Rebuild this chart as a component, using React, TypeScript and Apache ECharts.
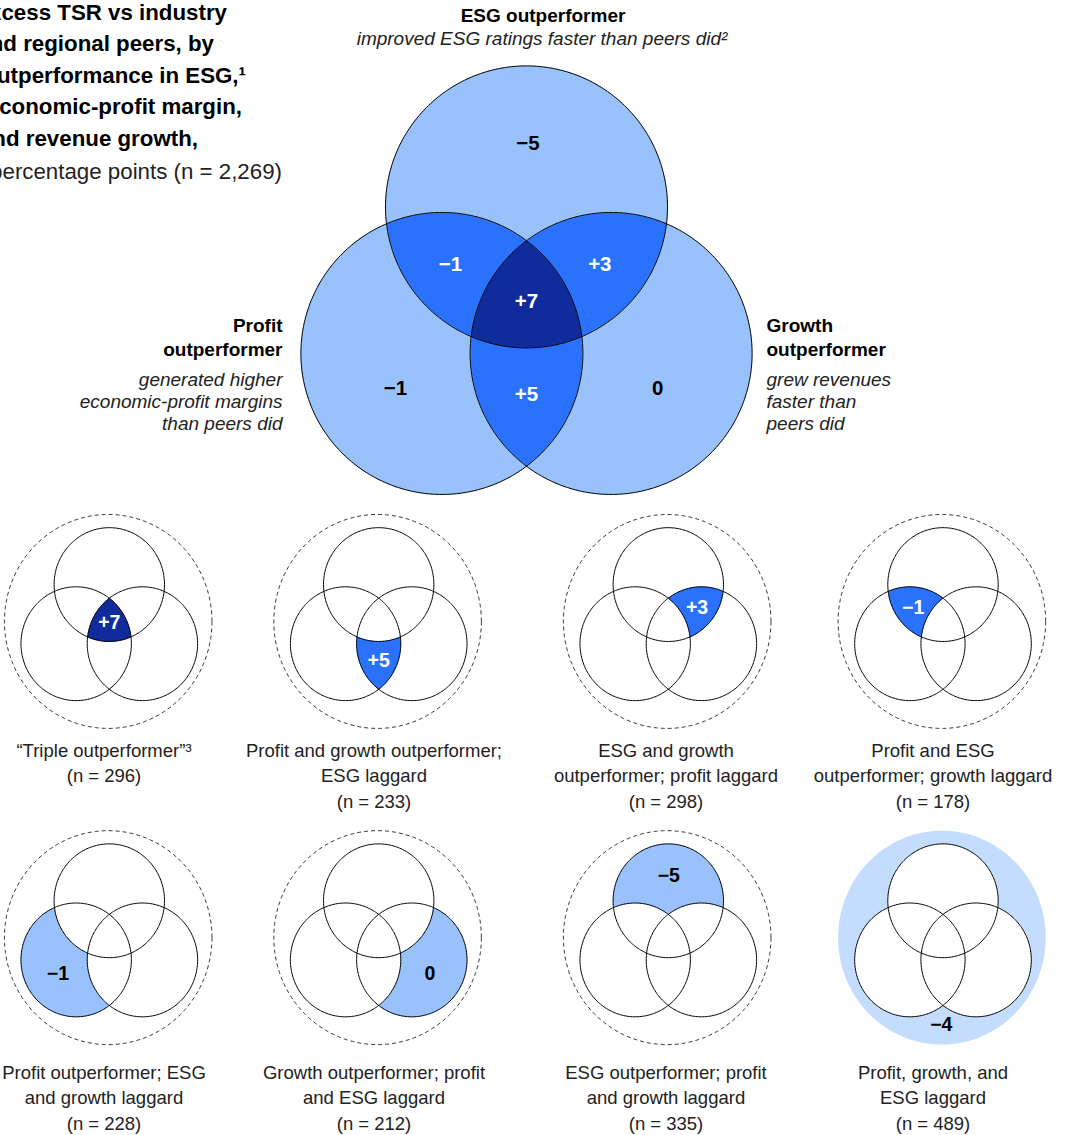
import React, { useEffect, useRef } from "react";
import * as echarts from "echarts";

// ---------------- data ----------------
// Region keys: A = ESG outperformer, B = profit outperformer, C = growth outperformer
const regionKeys = ["ABC", "BC", "AC", "AB", "B", "C", "A", ""];
const excessTsr = [7, 5, 3, -1, -1, 0, -5, -4];
const sampleSizes = [296, 233, 298, 178, 228, 212, 335, 489];
const captionLines: string[][] = [
  ["\u201CTriple outperformer\u201D\u00B3"],
  ["Profit and growth outperformer;", "ESG laggard"],
  ["ESG and growth", "outperformer; profit laggard"],
  ["Profit and ESG", "outperformer; growth laggard"],
  ["Profit outperformer; ESG", "and growth laggard"],
  ["Growth outperformer; profit", "and ESG laggard"],
  ["ESG outperformer; profit", "and growth laggard"],
  ["Profit, growth, and", "ESG laggard"],
];
const titleLines = [
  "Excess TSR vs industry",
  "and regional peers, by",
  "outperformance in ESG,\u00B9",
  "economic-profit margin,",
  "and revenue growth,",
];
const subtitleText = "percentage points (n = 2,269)";
const esgLabel = ["ESG outperformer"];
const esgDesc = ["improved ESG ratings faster than peers did\u00B2"];
const profitLabel = ["Profit", "outperformer"];
const profitDesc = ["generated higher", "economic-profit margins", "than peers did"];
const growthLabel = ["Growth", "outperformer"];
const growthDesc = ["grew revenues", "faster than", "peers did"];

// ---------------- layout ----------------
const W = 1069;
const H = 1135;
const FONT = "'Liberation Sans', Arial, Helvetica, sans-serif";
const BIG = { cx: 526.5, cy: 304.6, sx: 141, sy: 141 };
const COLS = [109.3, 378.7, 668.3, 943];
const ROWS = [624.0, 940.2];
const SMALL_SX = 55.2;
const SMALL_SY = 56.9;
const OUTER_R = 1.88;
const OUTER_OFF = [-0.02, -0.045];
const CAPTION_X = [104, 374, 666, 933];
const CAPTION_Y = [750, 1072];
const CAPTION_LH = 25.5;
const TITLE_RIGHT = [227, 214, 246, 242, 198];
const TITLE_Y0 = 12;
const TITLE_LH = 31.6;
const TITLE_SIZE = 22.3;
const FILLS = ["#c4dcfd", "#99c2fd", "#2a72fe", "#0f2b9c"];
const SIDE = 1.2; // distance between circle centres in radius units
const SQ3 = Math.sqrt(3);
type Pt = [number, number];
const CIRCLE_CENTERS: Pt[] = [
  [0, -SIDE / SQ3],
  [-SIDE / 2, SIDE / (2 * SQ3)],
  [SIDE / 2, SIDE / (2 * SQ3)],
];
const LABEL_POS: Record<string, Pt> = {
  ABC: [0, -0.03],
  BC: [0, 0.63],
  AC: [0.52, -0.29],
  AB: [-0.54, -0.29],
  B: [-0.93, 0.585],
  C: [0.93, 0.585],
  A: [0.01, -1.15],
  "": [-0.03, 1.47],
};

// ---------------- geometry helpers ----------------
function regionOutline(key: string): Pt[] {
  const flags = ["A", "B", "C"].map((n) => key.includes(n));
  const cs = CIRCLE_CENTERS;
  const angs: number[][] = [[], [], []];
  for (let i = 0; i < 3; i++)
    for (let j = i + 1; j < 3; j++) {
      const dx = cs[j][0] - cs[i][0];
      const dy = cs[j][1] - cs[i][1];
      const d = Math.hypot(dx, dy);
      const a = d / 2;
      const h = Math.sqrt(1 - a * a);
      const mx = cs[i][0] + dx / 2;
      const my = cs[i][1] + dy / 2;
      const px = -dy / d;
      const py = dx / d;
      for (const s of [1, -1]) {
        const x = mx + s * h * px;
        const y = my + s * h * py;
        angs[i].push(Math.atan2(y - cs[i][1], x - cs[i][0]));
        angs[j].push(Math.atan2(y - cs[j][1], x - cs[j][0]));
      }
    }
  const inside = (k: number, x: number, y: number) =>
    Math.hypot(x - cs[k][0], y - cs[k][1]) < 1;
  const arcs: { c: number; a0: number; a1: number }[] = [];
  for (let i = 0; i < 3; i++) {
    const a = angs[i].slice().sort((p, q) => p - q);
    for (let k = 0; k < a.length; k++) {
      const a0 = a[k];
      const a1 = k + 1 < a.length ? a[k + 1] : a[0] + 2 * Math.PI;
      const am = (a0 + a1) / 2;
      const x = cs[i][0] + Math.cos(am);
      const y = cs[i][1] + Math.sin(am);
      let ok = true;
      for (let j = 0; j < 3; j++) if (j !== i && inside(j, x, y) !== flags[j]) ok = false;
      if (ok) arcs.push({ c: i, a0, a1 });
    }
  }
  const P = (c: number, a: number): Pt => [cs[c][0] + Math.cos(a), cs[c][1] + Math.sin(a)];
  const near = (p: Pt, q: Pt) => Math.hypot(p[0] - q[0], p[1] - q[1]) < 1e-6;
  const out: Pt[] = [];
  const used = arcs.map(() => false);
  let cur = 0;
  let fwd = true;
  for (let step = 0; step < arcs.length; step++) {
    used[cur] = true;
    const { c, a0, a1 } = arcs[cur];
    const n = Math.max(8, Math.ceil(((a1 - a0) / (2 * Math.PI)) * 360));
    for (let t = 0; t < n; t++) {
      const a = fwd ? a0 + ((a1 - a0) * t) / n : a1 - ((a1 - a0) * t) / n;
      out.push(P(c, a));
    }
    const end = fwd ? P(c, a1) : P(c, a0);
    let next = -1;
    for (let k = 0; k < arcs.length; k++) {
      if (used[k]) continue;
      if (near(P(arcs[k].c, arcs[k].a0), end)) {
        next = k;
        fwd = true;
        break;
      }
      if (near(P(arcs[k].c, arcs[k].a1), end)) {
        next = k;
        fwd = false;
        break;
      }
    }
    if (next < 0) break;
    cur = next;
  }
  return out;
}

function circlePts(cx: number, cy: number, r: number, n = 240): Pt[] {
  const pts: Pt[] = [];
  for (let i = 0; i < n; i++) {
    const a = (i / n) * Math.PI * 2;
    pts.push([cx + r * Math.cos(a), cy + r * Math.sin(a)]);
  }
  return pts;
}

const REGION_SHAPES: Record<string, Pt[]> = {};
regionKeys.forEach((k) => {
  if (k) REGION_SHAPES[k] = regionOutline(k);
});

function fmt(v: number) {
  return v > 0 ? "+" + v : v < 0 ? "\u2212" + Math.abs(v) : "0";
}

function textEl(
  text: string,
  x: number,
  y: number,
  size: number,
  opts: { weight?: string; style?: string; align?: string; fill?: string } = {}
) {
  const align = opts.align || "center";
  return {
    type: "text",
    x,
    y,
    silent: true,
    style: {
      text,
      textAlign: align,
      align,
      textVerticalAlign: "middle",
      verticalAlign: "middle",
      fontSize: size,
      fontWeight: opts.weight || "normal",
      fontStyle: opts.style || "normal",
      fontFamily: FONT,
      fill: opts.fill || "#000",
    },
  };
}

function buildOption() {
  const graphics: any[] = [];
  titleLines.forEach((t, i) =>
    graphics.push(textEl(t, TITLE_RIGHT[i], TITLE_Y0 + i * TITLE_LH, TITLE_SIZE, { weight: "bold", align: "right" }))
  );
  graphics.push(textEl(subtitleText, 282, TITLE_Y0 + 5 * TITLE_LH + 1, TITLE_SIZE, { align: "right", fill: "#222" }));
  esgLabel.forEach((t, i) => graphics.push(textEl(t, 543, 15 + i * 25, 19, { weight: "bold" })));
  esgDesc.forEach((t, i) => graphics.push(textEl(t, 542, 38.5 + i * 22, 19, { style: "italic", fill: "#222" })));
  profitLabel.forEach((t, i) =>
    graphics.push(textEl(t, 282.5, 325 + i * 24.5, 19, { weight: "bold", align: "right" }))
  );
  profitDesc.forEach((t, i) =>
    graphics.push(textEl(t, 282.5, 379.5 + i * 22, 19, { style: "italic", align: "right", fill: "#222" }))
  );
  growthLabel.forEach((t, i) =>
    graphics.push(textEl(t, 766.5, 325 + i * 24.5, 19, { weight: "bold", align: "left" }))
  );
  growthDesc.forEach((t, i) =>
    graphics.push(textEl(t, 766.5, 379.5 + i * 22, 19, { style: "italic", align: "left", fill: "#222" }))
  );

  const bigData = regionKeys
    .map((k, i) => [i, excessTsr[i]])
    .filter((d) => regionKeys[d[0]] !== "");
  const smallData = sampleSizes.map((n, i) => [i, excessTsr[i], n]);

  const bigRegions = {
    type: "custom",
    name: "Excess TSR by segment",
    z: 2,
    data: bigData,
    renderItem: (params: any, api: any) => {
      const idx = api.value(0) as number;
      const val = api.value(1) as number;
      const key = regionKeys[idx];
      const toPx = (p: Pt) => api.coord([BIG.cx + p[0] * BIG.sx, BIG.cy + p[1] * BIG.sy]);
      const points = REGION_SHAPES[key].map(toPx);
      const lp = toPx(LABEL_POS[key]);
      return {
        type: "group",
        children: [
          { type: "polygon", shape: { points }, style: { fill: FILLS[key.length], stroke: FILLS[key.length], lineWidth: 0.5 } },
          {
            type: "text",
            z2: 10,
            style: {
              text: fmt(val),
              x: lp[0],
              y: lp[1],
              textAlign: "center",
              align: "center",
              textVerticalAlign: "middle",
              verticalAlign: "middle",
              fontSize: 20.5,
              fontWeight: "bold",
              fontFamily: FONT,
              fill: key.length >= 2 ? "#fff" : "#000",
            },
          },
        ],
      };
    },
  };

  const bigOutlines = {
    type: "custom",
    name: "Circles",
    z: 3,
    data: [[0], [1], [2]],
    renderItem: (params: any, api: any) => {
      const c = CIRCLE_CENTERS[api.value(0) as number];
      const points = circlePts(c[0], c[1], 1, 360).map((p) =>
        api.coord([BIG.cx + p[0] * BIG.sx, BIG.cy + p[1] * BIG.sy])
      );
      return { type: "polygon", shape: { points }, style: { fill: "none", stroke: "#000", lineWidth: 1 } };
    },
  };

  const smallPanels = {
    type: "custom",
    name: "Segments",
    z: 4,
    data: smallData,
    renderItem: (params: any, api: any) => {
      const i = api.value(0) as number;
      const val = api.value(1) as number;
      const n = api.value(2) as number;
      const key = regionKeys[i];
      const row = Math.floor(i / 4);
      const col = i % 4;
      const cx = COLS[col];
      const cy = ROWS[row];
      const toPx = (p: Pt) => api.coord([cx + p[0] * SMALL_SX, cy + p[1] * SMALL_SY]);
      const children: any[] = [];
      const outer = circlePts(OUTER_OFF[0], OUTER_OFF[1], OUTER_R, 360).map(toPx);
      if (key === "") {
        children.push({ type: "polygon", shape: { points: outer }, style: { fill: FILLS[0], stroke: "none" } });
        CIRCLE_CENTERS.forEach((c) =>
          children.push({
            type: "polygon",
            shape: { points: circlePts(c[0], c[1], 1).map(toPx) },
            style: { fill: "#fff", stroke: "none" },
          })
        );
      } else {
        children.push({
          type: "polygon",
          shape: { points: outer },
          style: { fill: "none", stroke: "#333", lineWidth: 1, lineDash: [4, 3] },
        });
        children.push({
          type: "polygon",
          shape: { points: REGION_SHAPES[key].map(toPx) },
          style: { fill: FILLS[key.length], stroke: FILLS[key.length], lineWidth: 0.5 },
        });
      }
      CIRCLE_CENTERS.forEach((c) =>
        children.push({
          type: "polygon",
          shape: { points: circlePts(c[0], c[1], 1).map(toPx) },
          style: { fill: "none", stroke: "#000", lineWidth: 1 },
        })
      );
      const lp = toPx(LABEL_POS[key]);
      children.push({
        type: "text",
        style: {
          text: fmt(val),
          x: lp[0],
          y: lp[1],
          textAlign: "center",
          align: "center",
          textVerticalAlign: "middle",
          verticalAlign: "middle",
          fontSize: 19.5,
          fontWeight: "bold",
          fontFamily: FONT,
          fill: key.length >= 2 ? "#fff" : "#000",
        },
      });
      const lines = captionLines[i].concat(["(n = " + n + ")"]);
      lines.forEach((t, li) => {
        const p = api.coord([CAPTION_X[col], CAPTION_Y[row] + li * CAPTION_LH]);
        children.push({
          type: "text",
          style: {
            text: t,
            x: p[0],
            y: p[1],
            textAlign: "center",
            align: "center",
            textVerticalAlign: "middle",
            verticalAlign: "middle",
            fontSize: 18.5,
            fontFamily: FONT,
            fill: "#222",
          },
        });
      });
      return { type: "group", children };
    },
  };

  return {
    animation: false,
    backgroundColor: "#ffffff",
    grid: { left: 0, right: 0, top: 0, bottom: 0, containLabel: false },
    xAxis: { type: "value", min: 0, max: W, show: false },
    yAxis: { type: "value", min: 0, max: H, inverse: true, show: false },
    graphic: graphics,
    series: [bigRegions, bigOutlines, smallPanels],
  };
}

export default function App() {
  const ref = useRef<HTMLDivElement>(null);
  useEffect(() => {
    document.body.style.margin = "0";
    const chart = echarts.init(ref.current as HTMLDivElement, null, { renderer: "svg" });
    chart.setOption(buildOption() as any);
    return () => chart.dispose();
  }, []);
  return <div ref={ref} style={{ width: W, height: H }} />;
}
